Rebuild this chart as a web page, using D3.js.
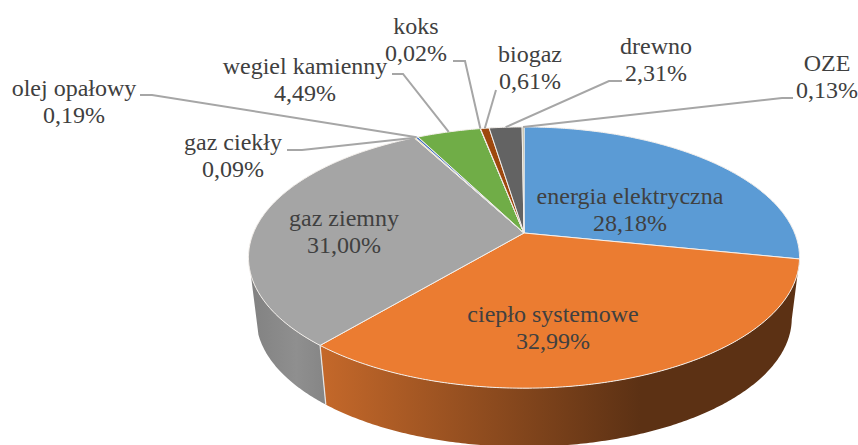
<!DOCTYPE html>
<html lang="en">

<head>
  <meta charset="UTF-8" />
  <title>Struktura zużycia energii</title>
  <style>
    body {
      margin: 0;
      background: #fff;
    }

    text {
      font-family: "Liberation Serif", serif;
      font-size: 24px;
      fill: #404040;
    }

    .leader {
      fill: none;
      stroke: #a6a6a6;
      stroke-width: 2px;
    }
  </style>
</head>

<body>
  <script src="https://cdn.jsdelivr.net/npm/d3@7"></script>
  <script>
    var categories = ["energia elektryczna", "ciepło systemowe", "gaz ziemny", "gaz ciekły", "olej opałowy",
      "wegiel kamienny", "koks", "biogaz", "drewno", "OZE"];
    var values = [28.18, 32.99, 31.00, 0.09, 0.19, 4.49, 0.02, 0.61, 2.31, 0.13];
    var valueLabels = ["28,18%", "32,99%", "31,00%", "0,09%", "0,19%", "4,49%", "0,02%", "0,61%", "2,31%", "0,13%"];
    var colors = ["#5b9bd5", "#eb7c31", "#a5a5a5", "#ffc000", "#4472c4", "#70ad47", "#264478", "#9e480e", "#636363", "#a8a27c"];

    var w = 858;
    var h = 445;

    // perspective of the pie: v runs from back (-1) to front (1)
    var top3d = { cx: 524, cy: 233, a: 270.6, b: 126, k: 0.188 };
    var bottom3d = { cx: 524, cy: 294, a: 263, b: 124, k: 0.188 };

    function project(p, angle) {
      var u = Math.sin(angle);
      var v = -Math.cos(angle);
      var d = 1 - p.k * v;
      return [p.cx + p.a * u / d, p.cy + p.b * v / d];
    }

    function rim(p, a0, a1) {
      var n = Math.max(2, Math.ceil(Math.abs(a1 - a0) / 0.01));
      return d3.range(n + 1).map(function(i) {
        return project(p, a0 + (a1 - a0) * i / n);
      });
    }

    var line = d3.line();
    var arcs = d3.pie().sort(null)(values);

    var svg = d3.select("body")
      .append("svg")
      .attr("width", w)
      .attr("height", h)
      .style("display", "block");

    var defs = svg.append("defs");

    var orangeSide = defs.append("linearGradient")
      .attr("id", "orangeSide")
      .attr("gradientUnits", "userSpaceOnUse")
      .attr("x1", 322).attr("x2", 640).attr("y1", 0).attr("y2", 0);
    orangeSide.append("stop").attr("offset", 0).attr("stop-color", "#c4682a");
    orangeSide.append("stop").attr("offset", 1).attr("stop-color", "#5c3114");

    var graySide = defs.append("linearGradient")
      .attr("id", "graySide")
      .attr("gradientUnits", "userSpaceOnUse")
      .attr("x1", 252).attr("x2", 326).attr("y1", 0).attr("y2", 0);
    graySide.append("stop").attr("offset", 0).attr("stop-color", "#828282");
    graySide.append("stop").attr("offset", 0.6).attr("stop-color", "#8f8f8f");
    graySide.append("stop").attr("offset", 1).attr("stop-color", "#858585");

    // side walls, only the two big slices face the viewer
    var orangeArc = arcs[1];
    var grayArc = arcs[2];
    var grayEnd = 252 * Math.PI / 180;

    svg.append("path")
      .attr("d", line(rim(top3d, orangeArc.startAngle, orangeArc.endAngle)
        .concat(rim(bottom3d, orangeArc.endAngle, orangeArc.startAngle))) + "Z")
      .attr("fill", "url(#orangeSide)");

    svg.append("path")
      .attr("d", line(rim(top3d, grayArc.startAngle, grayEnd)
        .concat(rim(bottom3d, grayEnd, grayArc.startAngle))) + "Z")
      .attr("fill", "url(#graySide)");

    svg.append("path")
      .attr("d", line([project(top3d, grayArc.startAngle), project(bottom3d, grayArc.startAngle)]))
      .attr("stroke", "#e6e6e6")
      .attr("stroke-width", 1.2)
      .attr("fill", "none");

    // top face
    svg.selectAll(".slice")
      .data(arcs)
      .enter()
      .append("path")
      .attr("class", "slice")
      .attr("d", function(d) {
        return line([[top3d.cx, top3d.cy]].concat(rim(top3d, d.startAngle, d.endAngle))) + "Z";
      })
      .attr("fill", function(d, i) {
        return colors[i];
      })
      .attr("stroke", "#f4f0ec")
      .attr("stroke-width", 1);

    // leader lines: label end and elbow, the last point sits on the rim
    var leaderStarts = {
      3: [[287, 150], [302, 150]],
      4: [[140, 95], [152, 95]],
      5: [[392, 74], [403, 74]],
      6: [[453, 61], [465, 61]],
      7: [[496, 90]],
      8: [[622, 81], [609, 81]],
      9: [[793, 98], [782, 98]]
    };

    Object.keys(leaderStarts).forEach(function(i) {
      var mid = (arcs[i].startAngle + arcs[i].endAngle) / 2;
      svg.append("path")
        .attr("class", "leader")
        .attr("d", line(leaderStarts[i].concat([project(top3d, mid)])));
    });

    // label centre and the baseline of the first line
    var labelPos = [[630, 204], [553, 322], [344, 226], [233, 150], [74, 96], [305, 74], [416, 34], [530, 62], [656, 54], [827, 71]];

    categories.forEach(function(name, i) {
      var t = svg.append("text")
        .attr("text-anchor", "middle")
        .attr("x", labelPos[i][0])
        .attr("y", labelPos[i][1]);
      t.append("tspan").attr("x", labelPos[i][0]).text(name);
      t.append("tspan").attr("x", labelPos[i][0]).attr("dy", 27).text(valueLabels[i]);
    });
  </script>
</body>

</html>
